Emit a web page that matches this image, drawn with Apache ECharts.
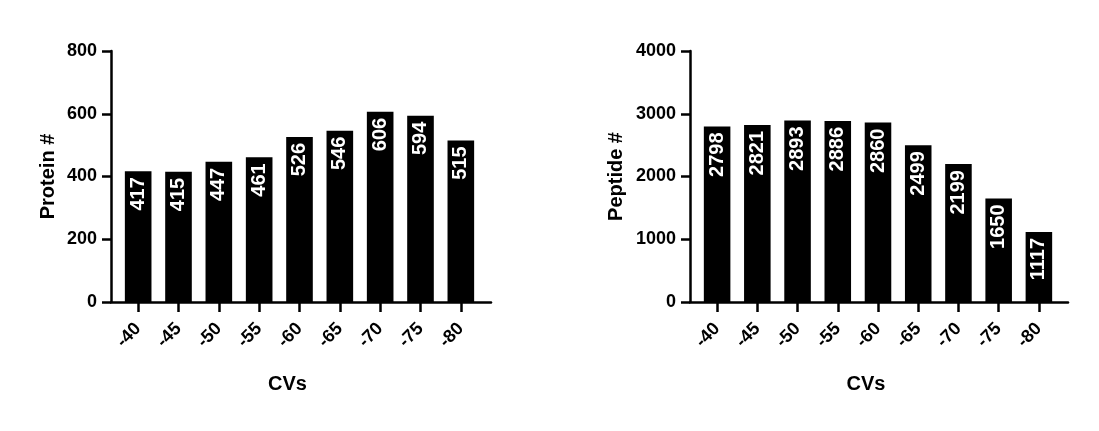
<!DOCTYPE html>
<html>
<head>
<meta charset="utf-8">
<script src="https://cdn.jsdelivr.net/npm/echarts@6/dist/echarts.min.js"></script>
<style>
html,body{margin:0;padding:0;background:#fff;}
#main{width:1099px;height:431px;}
</style>
</head>
<body>
<div id="main"></div>
<script>
// data
var cvs = ['-40', '-45', '-50', '-55', '-60', '-65', '-70', '-75', '-80'];
var proteinCounts = [417, 415, 447, 461, 526, 546, 606, 594, 515];
var peptideCounts = [2798, 2821, 2893, 2886, 2860, 2499, 2199, 1650, 1117];
var proteinAxis = [0, 800, 200];   // min, max, interval
var peptideAxis = [0, 4000, 1000];

var font = 'Liberation Sans, Arial, sans-serif';
var lw = 2.5;

// grid 0/2 only draw the axis frame, grid 1/3 hold the bars
function frameAxes(gridIndex, ax, yName, gap) {
  return {
    x: {
      type: 'value', gridIndex: gridIndex, min: 0, max: 1,
      axisLine: {show: true, lineStyle: {color: '#000', width: lw}},
      axisTick: {show: false}, axisLabel: {show: false}, splitLine: {show: false}
    },
    y: {
      type: 'value', gridIndex: gridIndex, min: ax[0], max: ax[1], interval: ax[2],
      name: yName, nameLocation: 'middle', nameGap: gap, nameMoveOverlap: false,
      nameTextStyle: {fontFamily: font, fontSize: 20, fontWeight: 'bold', color: '#000'},
      axisLine: {show: true, lineStyle: {color: '#000', width: lw}},
      axisTick: {show: true, length: 9, lineStyle: {color: '#000', width: lw}},
      axisLabel: {
        margin: 14, fontFamily: font, fontSize: 18, fontWeight: 'bold', color: '#000',
        formatter: function (v) { return String(v); }
      },
      splitLine: {show: false}
    }
  };
}

function barAxes(gridIndex, ax) {
  return {
    x: {
      type: 'category', gridIndex: gridIndex, data: cvs,
      name: 'CVs', nameLocation: 'middle', nameGap: 72,
      nameTextStyle: {fontFamily: font, fontSize: 20, fontWeight: 'bold', color: '#000', padding: [0, 24, 0, 0]},
      axisLine: {show: false},
      axisTick: {show: true, alignWithLabel: true, length: 10, lineStyle: {color: '#000', width: lw}},
      axisLabel: {rotate: 45, margin: 24, padding: [0, 0, 0, 3], fontFamily: font, fontSize: 18, fontWeight: 'bold', color: '#000'}
    },
    y: {
      type: 'value', gridIndex: gridIndex, min: ax[0], max: ax[1], interval: ax[2], show: false
    }
  };
}

var f0 = frameAxes(0, proteinAxis, 'Protein #', 53);
var b1 = barAxes(1, proteinAxis);
var f2 = frameAxes(2, peptideAxis, 'Peptide #', 64);
var b3 = barAxes(3, peptideAxis);

var barLabel = {
  show: true, position: 'insideTop', rotate: 90, align: 'right', verticalAlign: 'middle',
  distance: 6, color: '#fff', fontFamily: font, fontSize: 20, fontWeight: 'bold'
};

var option = {
  animation: false,
  backgroundColor: '#fff',
  grid: [
    {left: 111, top: 51, width: 380, height: 251},
    {left: 118, top: 51, width: 363, height: 251},
    {left: 690, top: 51, width: 378, height: 251},
    {left: 697, top: 51, width: 362, height: 251}
  ],
  xAxis: [f0.x, b1.x, f2.x, b3.x],
  yAxis: [f0.y, b1.y, f2.y, b3.y],
  series: [
    {
      name: 'Protein #', type: 'bar', xAxisIndex: 1, yAxisIndex: 1,
      data: proteinCounts, barCategoryGap: '34%',
      itemStyle: {color: '#000'}, label: barLabel
    },
    {
      name: 'Peptide #', type: 'bar', xAxisIndex: 3, yAxisIndex: 3,
      data: peptideCounts, barCategoryGap: '34%',
      itemStyle: {color: '#000'}, label: barLabel
    }
  ]
};

var myChart = echarts.init(document.getElementById('main'));
myChart.setOption(option);
</script>
</body>
</html>
